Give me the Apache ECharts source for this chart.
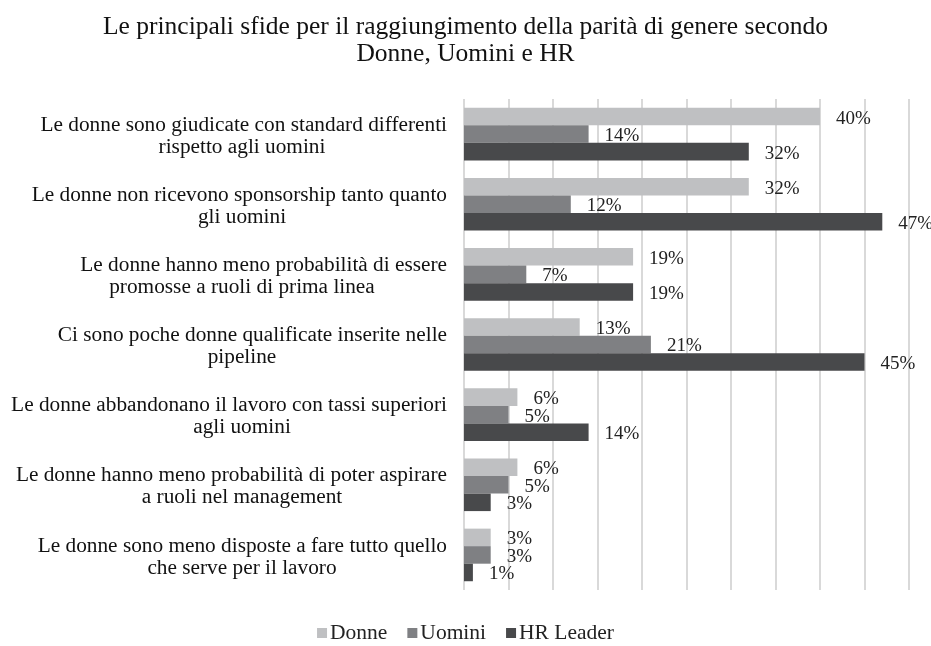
<!DOCTYPE html>
<html>
<head>
<meta charset="utf-8">
<script src="https://cdn.jsdelivr.net/npm/echarts@6/dist/echarts.min.js"></script>
<style>
  html, body { margin: 0; padding: 0; background: #fff; }
  #chart { width: 931px; height: 646px; }
</style>
</head>
<body>
<div id="chart"></div>
<script>
const categories = [
  'Le donne sono giudicate con standard differenti\nrispetto agli uomini',
  'Le donne non ricevono sponsorship tanto quanto\ngli uomini',
  'Le donne hanno meno probabilità di essere\npromosse a ruoli di prima linea',
  'Ci sono poche donne qualificate inserite nelle\npipeline',
  'Le donne abbandonano il lavoro con tassi superiori\nagli uomini',
  'Le donne hanno meno probabilità di poter aspirare\na ruoli nel management',
  'Le donne sono meno disposte a fare tutto quello\nche serve per il lavoro'
]
const donne = [40, 32, 19, 13, 6, 6, 3]
const uomini = [14, 12, 7, 21, 5, 5, 3]
const hrLeader = [32, 47, 19, 45, 14, 3, 1]

const font = "'Liberation Serif', 'Times New Roman', serif"

const mkSeries = (name, data, color) => ({
  name: name,
  type: 'bar',
  data: data,
  barGap: '0%',
  barCategoryGap: '25%',
  itemStyle: { color: color },
  label: {
    show: true,
    position: 'right',
    distance: 16,
    formatter: '{c}%',
    color: '#222',
    fontFamily: font,
    fontSize: 19,
    offset: [0, 2]
  }
})

const chart = echarts.init(document.getElementById('chart'))
chart.setOption({
  animation: false,
  title: {
    text: 'Le principali sfide per il raggiungimento della parità di genere secondo\nDonne, Uomini e HR',
    left: 'center',
    top: 9,
    textStyle: { fontFamily: font, fontSize: 25.5, fontWeight: 'normal', color: '#111', lineHeight: 27 }
  },
  legend: {
    top: 617,
    left: 'center',
    icon: 'rect',
    itemWidth: 10,
    itemHeight: 10,
    itemGap: 20,
    textStyle: { fontFamily: font, fontSize: 21.5, color: '#222', padding: [0, 0, 0, -2] },
    data: ['Donne', 'Uomini', 'HR Leader']
  },
  grid: { left: 464, right: 22, top: 99, bottom: 56 },
  xAxis: {
    type: 'value',
    min: 0,
    max: 50,
    interval: 5,
    axisLabel: { show: false },
    axisLine: { show: false },
    axisTick: { show: false },
    splitLine: { lineStyle: { color: '#d9d9d9', width: 2 } }
  },
  yAxis: [
    {
      type: 'category',
      inverse: true,
      data: categories,
      axisLine: { show: false },
      axisTick: { show: false },
      axisLabel: {
        margin: 17,
        align: 'right',
        verticalAlign: 'bottom',
        lineHeight: 18,
        fontFamily: font,
        fontSize: 21.3,
        color: '#111',
        formatter: v => v.split('\n')[0]
      }
    },
    {
      type: 'category',
      position: 'left',
      inverse: true,
      data: categories,
      axisLine: { show: false },
      axisTick: { show: false },
      axisLabel: {
        margin: 222,
        align: 'center',
        verticalAlign: 'top',
        lineHeight: 26,
        fontFamily: font,
        fontSize: 21.3,
        color: '#111',
        formatter: v => v.split('\n')[1]
      }
    }
  ],
  series: [
    mkSeries('Donne', donne, '#bfc0c2'),
    mkSeries('Uomini', uomini, '#7f8083'),
    mkSeries('HR Leader', hrLeader, '#48494b')
  ]
})
</script>
</body>
</html>
